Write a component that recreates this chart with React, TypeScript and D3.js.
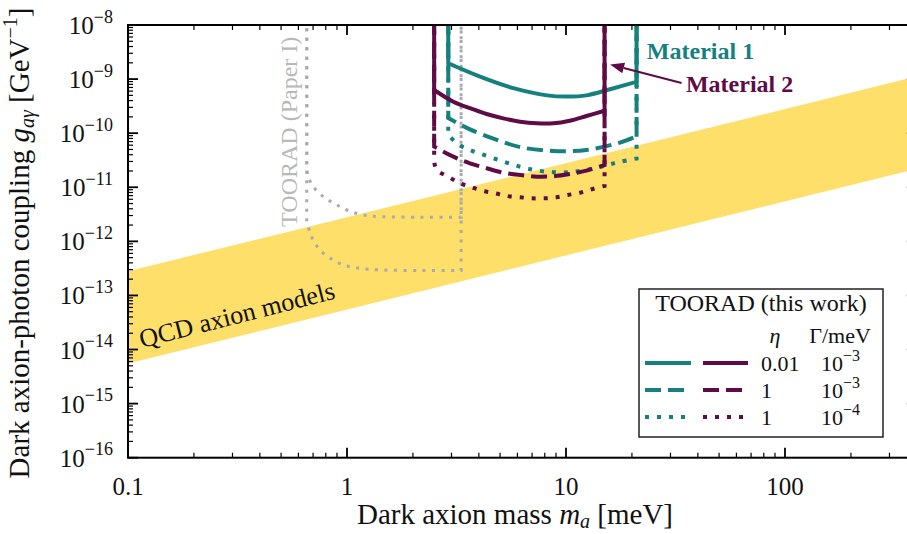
import React from 'react';
import * as d3 from 'd3';

// ---------- axes ----------
const massDomain = [0.1, 400];
const couplingDomain = [1e-16, 1e-8];
const xTickValues = [0.1, 1, 10, 100];
const xTickLabels = ['0.1', '1', '10', '100'];
const yTickExponents = [-16, -15, -14, -13, -12, -11, -10, -9, -8];

// ---------- QCD axion band (g ∝ m) ----------
const qcdMass = [0.1, 400];
const qcdLow = [5.5e-15, 2.2e-11];
const qcdHigh = [2.8e-13, 1.12e-9];

// ---------- TOORAD (Paper I), gray dotted ----------
const paper1Edges = [0.655, 3.32];
const paper1UpperMass = [0.655, 0.665, 0.7, 0.78, 0.9, 1.03, 1.23, 1.45, 2.2, 3.32];
const paper1UpperG = [2.2e-11, 1.57e-11, 1.03e-11, 6.7e-12, 4.7e-12, 3.6e-12, 3.0e-12, 2.85e-12, 2.8e-12, 2.8e-12];
const paper1LowerMass = [0.655, 0.678, 0.7, 0.753, 0.836, 0.962, 1.146, 1.415, 2.2, 3.32];
const paper1LowerG = [2.2e-12, 1.49e-12, 1.06e-12, 6.9e-13, 4.9e-13, 3.66e-13, 3.18e-13, 2.96e-13, 2.9e-13, 2.9e-13];

// ---------- Material 1 (teal) ----------
const mat1Edges = [2.9, 21.0];
const mat1SolidMass = [2.9, 4.05, 5.75, 8.2, 10, 12.4, 15.9, 21.0];
const mat1SolidG = [1.96e-9, 1.11e-9, 6.8e-10, 5.0e-10, 4.75e-10, 5.0e-10, 6.5e-10, 8.9e-10];
const mat1DashedMass = [2.9, 3.6, 4.8, 6.2, 8.7, 12.4, 17.6, 21.0];
const mat1DashedG = [1.9e-10, 1.2e-10, 7.6e-11, 5.5e-11, 4.7e-11, 4.9e-11, 6.7e-11, 8.8e-11];
const mat1DottedMass = [2.9, 3.2, 3.64, 4.34, 5.17, 6.17, 7.35, 8.75, 10.4, 12.4, 15.3, 17.6, 21.0];
const mat1DottedG = [9.3e-11, 6.3e-11, 4.9e-11, 3.8e-11, 3.0e-11, 2.4e-11, 2.05e-11, 1.9e-11, 1.9e-11, 2.1e-11, 2.55e-11, 2.95e-11, 3.4e-11];

// ---------- Material 2 (purple) ----------
const mat2Edges = [2.5, 15.0];
const mat2SolidMass = [2.5, 3.06, 3.64, 4.34, 5.17, 6.17, 7.35, 8.75, 10.4, 12.4, 15.0];
const mat2SolidG = [6.29e-10, 3.82e-10, 2.89e-10, 2.26e-10, 1.88e-10, 1.63e-10, 1.52e-10, 1.52e-10, 1.7e-10, 2.08e-10, 2.6e-10];
const mat2DashedMass = [2.5, 3.06, 3.64, 4.34, 5.17, 6.17, 7.35, 8.75, 10.4, 12.4, 15.0];
const mat2DashedG = [5.63e-11, 3.68e-11, 2.77e-11, 2.25e-11, 1.86e-11, 1.69e-11, 1.57e-11, 1.6e-11, 1.76e-11, 2.03e-11, 2.58e-11];
const mat2DottedMass = [2.5, 2.57, 2.9, 3.28, 3.64, 4.12, 4.74, 5.36, 6.17, 6.97, 8.02, 9.07, 10.2, 11.6, 13.1, 15.0];
const mat2DottedG = [2.97e-11, 2.09e-11, 1.57e-11, 1.19e-11, 1.03e-11, 8.65e-12, 7.74e-12, 6.9e-12, 6.53e-12, 6.26e-12, 6.26e-12, 6.53e-12, 7.2e-12, 7.94e-12, 9.2e-12, 1.06e-11];

// ---------- legend rows ----------
const legendEta = ['0.01', '1', '1'];
const legendGammaExp = ['−3', '−3', '−4'];
const legendStyles = ['solid', 'dashed', 'dotted'];

// ---------- annotations (data coordinates) ----------
const mat1LabelPos = [23.4, 2.35e-9];
const mat2LabelPos = [35.3, 5.65e-10];
const mat2ArrowTail = [33.7, 8.47e-10];
const mat2ArrowTip = [15.9, 1.86e-9];
const qcdLabelPos = [0.1155, 1.07e-14];
const paper1LabelPos = [0.592, 1.85e-12];

const TEAL = '#15807e';
const PURPLE = '#5e0b48';
const YELLOW = '#fddf6a';
const GRAY = '#a9a9b0';
const FONT = "'Liberation Serif', 'DejaVu Serif', serif";

const dashFor = (s: string) => (s === 'dashed' ? '16 7' : s === 'dotted' ? '4 8' : undefined);

export default function App() {
  const x = d3.scaleLog().domain(massDomain).range([128, 128 + 219 * Math.log10(massDomain[1] / massDomain[0])]);
  const y = d3.scaleLog().domain(couplingDomain).range([457.7, 25]);
  const [x0, x1] = x.range();
  const [yb, yt] = y.range();

  const topY = y(1.3e-8);
  const uPath = (edges: number[], ms: number[], gs: number[]) => {
    const pts = ms.map((m, i) => [x(m), y(gs[i])] as [number, number]);
    const c = d3.line().curve(d3.curveCatmullRom.alpha(0.5))(pts) as string;
    return `M${x(edges[0])},${topY}L${c.slice(1)}L${x(edges[1])},${topY}`;
  };

  const band = d3
    .area<number>()
    .x((_, i) => x(qcdMass[i]))
    .y0((_, i) => y(qcdLow[i]))
    .y1((_, i) => y(qcdHigh[i]))(qcdMass.map((_, i) => i)) as string;

  // ticks
  const xMinor: number[] = [];
  [0.1, 1, 10, 100].forEach((d) => {
    for (let k = 2; k <= 9; k++) if (k * d <= massDomain[1]) xMinor.push(k * d);
  });
  const yMinor: number[] = [];
  for (let e = -16; e < -8; e++) for (let k = 2; k <= 9; k++) yMinor.push(k * Math.pow(10, e));
  const MAJ = 10, MIN = 5;

  const mat1 = [
    { ms: mat1SolidMass, gs: mat1SolidG, style: 'solid' },
    { ms: mat1DashedMass, gs: mat1DashedG, style: 'dashed' },
    { ms: mat1DottedMass, gs: mat1DottedG, style: 'dotted' },
  ];
  const mat2 = [
    { ms: mat2SolidMass, gs: mat2SolidG, style: 'solid' },
    { ms: mat2DashedMass, gs: mat2DashedG, style: 'dashed' },
    { ms: mat2DottedMass, gs: mat2DottedG, style: 'dotted' },
  ];

  // arrow
  const ax0 = x(mat2ArrowTail[0]), ay0 = y(mat2ArrowTail[1]);
  const ax1 = x(mat2ArrowTip[0]), ay1 = y(mat2ArrowTip[1]);
  const ang = Math.atan2(ay1 - ay0, ax1 - ax0);
  const hl = 14, hw = 5.5;
  const bx = ax1 - hl * Math.cos(ang), by = ay1 - hl * Math.sin(ang);
  const head = `M${ax1},${ay1}L${bx + hw * Math.sin(ang)},${by - hw * Math.cos(ang)}L${bx - hw * Math.sin(ang)},${by + hw * Math.cos(ang)}Z`;

  const qcdAngle = -14.3;

  // legend geometry
  const lgX = 639, lgY = 289, lgW = 244, lgH = 148;
  const rowY = [363, 390, 417];

  return (
    <svg width={907} height={534} style={{ position: 'absolute', left: 0, top: 0, background: '#fff' }} fontFamily={FONT}>
      <defs>
        <clipPath id="plotclip">
          <rect x={x0} y={yt} width={x1 - x0} height={yb - yt} />
        </clipPath>
      </defs>
      <rect x={0} y={0} width={907} height={534} fill="#fff" />

      <g clipPath="url(#plotclip)">
        <path d={band} fill={YELLOW} stroke="none" />
        {/* Paper I */}
        <path d={uPath(paper1Edges, paper1UpperMass, paper1UpperG)} fill="none" stroke={GRAY} strokeWidth={3} strokeDasharray="3 6.5" />
        <path d={uPath(paper1Edges, paper1LowerMass, paper1LowerG)} fill="none" stroke={GRAY} strokeWidth={3} strokeDasharray="3 6.5" />
        <text
          transform={`translate(${x(paper1LabelPos[0])},${y(paper1LabelPos[1])}) rotate(-90)`}
          fontSize={24}
          fill="#b8b8b8"
        >
          TOORAD (Paper I)
        </text>
        {mat1.map((c, i) => (
          <path key={'m1' + i} d={uPath(mat1Edges, c.ms, c.gs)} fill="none" stroke={TEAL} strokeWidth={4} strokeDasharray={dashFor(c.style)} />
        ))}
        {mat2.map((c, i) => (
          <path key={'m2' + i} d={uPath(mat2Edges, c.ms, c.gs)} fill="none" stroke={PURPLE} strokeWidth={4} strokeDasharray={dashFor(c.style)} />
        ))}
        <text
          transform={`translate(${x(qcdLabelPos[0])},${y(qcdLabelPos[1])}) rotate(${qcdAngle})`}
          fontSize={26}
          fill="#111"
        >
          QCD axion models
        </text>
        <text x={x(mat1LabelPos[0])} y={y(mat1LabelPos[1])} fontSize={24} fontWeight="bold" fill={TEAL}>
          Material 1
        </text>
        <text x={x(mat2LabelPos[0])} y={y(mat2LabelPos[1])} fontSize={24} fontWeight="bold" fill={PURPLE}>
          Material 2
        </text>
        <line x1={ax0} y1={ay0} x2={bx} y2={by} stroke={PURPLE} strokeWidth={2.2} />
        <path d={head} fill={PURPLE} />
      </g>

      {/* ticks */}
      <g stroke="#000">
        {xTickValues.map((v) => (
          <g key={'xM' + v}>
            <line x1={x(v)} x2={x(v)} y1={yb} y2={yb - MAJ} strokeWidth={1.8} />
            <line x1={x(v)} x2={x(v)} y1={yt} y2={yt + MAJ} strokeWidth={1.8} />
          </g>
        ))}
        {xMinor.map((v) => (
          <g key={'xm' + v}>
            <line x1={x(v)} x2={x(v)} y1={yb} y2={yb - MIN} strokeWidth={1.2} />
            <line x1={x(v)} x2={x(v)} y1={yt} y2={yt + MIN} strokeWidth={1.2} />
          </g>
        ))}
        {yTickExponents.map((e) => (
          <g key={'yM' + e}>
            <line x1={x0} x2={x0 + MAJ} y1={y(Math.pow(10, e))} y2={y(Math.pow(10, e))} strokeWidth={1.8} />
            <line x1={x1} x2={x1 - MAJ} y1={y(Math.pow(10, e))} y2={y(Math.pow(10, e))} strokeWidth={1.8} />
          </g>
        ))}
        {yMinor.map((v, i) => (
          <g key={'ym' + i}>
            <line x1={x0} x2={x0 + MIN} y1={y(v)} y2={y(v)} strokeWidth={1.2} />
            <line x1={x1} x2={x1 - MIN} y1={y(v)} y2={y(v)} strokeWidth={1.2} />
          </g>
        ))}
        <rect x={x0} y={yt} width={x1 - x0} height={yb - yt} fill="none" strokeWidth={2} />
      </g>

      {/* tick labels */}
      {xTickValues.map((v, i) => (
        <text key={'xl' + v} x={x(v)} y={495} textAnchor="middle" fontSize={25} fill="#111">
          {xTickLabels[i]}
        </text>
      ))}
      {yTickExponents.map((e) => (
        <text key={'yl' + e} x={113} y={y(Math.pow(10, e)) + 9} textAnchor="end" fontSize={25} fill="#111">
          10
          <tspan fontSize={18} dy={-11.5}>
            {'−' + Math.abs(e)}
          </tspan>
        </text>
      ))}

      {/* axis titles */}
      <text x={515} y={524} textAnchor="middle" fontSize={29} fill="#111">
        Dark axion mass <tspan fontStyle="italic">m</tspan>
        <tspan fontSize={20} fontStyle="italic" dy={4}>a</tspan>
        <tspan dy={-4}> [meV]</tspan>
      </text>
      <text transform="translate(29,243) rotate(-90)" textAnchor="middle" fontSize={29} fill="#111">
        Dark axion-photon coupling <tspan fontStyle="italic">g</tspan>
        <tspan fontSize={20} fontStyle="italic" dy={5}>aγ</tspan>
        <tspan dy={-5}> [GeV</tspan>
        <tspan fontSize={20} dy={-12}>−1</tspan>
        <tspan dy={12}>]</tspan>
      </text>

      {/* legend */}
      <g>
        <rect x={lgX} y={lgY} width={lgW} height={lgH} fill="#fff" stroke="#222" strokeWidth={1.5} />
        <text x={lgX + lgW / 2 + 0} y={lgY + 22} textAnchor="middle" fontSize={24} fill="#111">
          TOORAD (this work)
        </text>
        <text x={775} y={343} textAnchor="middle" fontSize={22} fontStyle="italic" fill="#111">
          η
        </text>
        <text x={840} y={343} textAnchor="middle" fontSize={22} fill="#111">
          Γ/meV
        </text>
        {legendStyles.map((s, i) => (
          <g key={'lg' + i}>
            <line x1={645} x2={691} y1={rowY[i]} y2={rowY[i]} stroke={TEAL} strokeWidth={4} strokeDasharray={dashFor(s)} />
            <line x1={703} x2={748} y1={rowY[i]} y2={rowY[i]} stroke={PURPLE} strokeWidth={4} strokeDasharray={dashFor(s)} />
            <text x={761} y={rowY[i] + 8} fontSize={22} fill="#111">
              {legendEta[i]}
            </text>
            <text x={821} y={rowY[i] + 8} fontSize={22} fill="#111">
              10
              <tspan fontSize={16} dy={-10}>
                {legendGammaExp[i]}
              </tspan>
            </text>
          </g>
        ))}
      </g>
    </svg>
  );
}
